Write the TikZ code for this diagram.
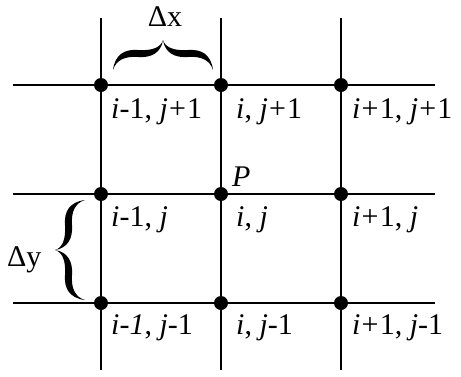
\documentclass[tikz,border=0pt]{standalone}
\usepackage{fontspec}
\setmainfont{Liberation Serif}

\newcommand{\plus}{\kern1.2pt+\kern1.2pt}

\tikzset{
  gridline/.style={line width=2pt},
  gridpt/.style={circle,fill,inner sep=0pt,minimum size=14pt},
  ptlabel/.style={anchor=base west,inner sep=0pt,font=\fontsize{30}{33}\selectfont},
  curlybrace/.pic={
    % upper half, then the mirrored lower half
    \fill (30,-50) .. controls (14,-48) and (9,-38) .. (10,-25)
        .. controls (11,-10) and (7,-2) .. (0,0)
        .. controls (13,-2) and (18,-12) .. (17,-25)
        .. controls (16,-38) and (20,-47) .. (30,-50) -- cycle;
    \fill (30,50) .. controls (14,48) and (9,38) .. (10,25)
        .. controls (11,10) and (7,2) .. (0,0)
        .. controls (13,2) and (18,12) .. (17,25)
        .. controls (16,38) and (20,47) .. (30,50) -- cycle;
  },
}

\begin{document}
\begin{tikzpicture}[x=1pt,y=-1pt]
    \useasboundingbox (0,0) rectangle (461,376);

    % grid lines
    \foreach \x/\c in {101/1,221/2,341/3}{
        \coordinate (top\c) at (\x,18);
        \coordinate (bot\c) at (\x,370);
        \draw[gridline] (top\c) -- (bot\c);
    }
    \foreach \y/\r in {85/1,194/2,303/3}{
        \coordinate (lft\r) at (13,\y);
        \coordinate (rgt\r) at (435,\y);
        \draw[gridline] (lft\r) -- (rgt\r);
    }

    % grid points
    \foreach \x/\c in {101/1,221/2,341/3}
        \foreach \y/\r in {85/1,194/2,303/3}
            \node[gridpt] (p\c\r) at (\x,\y) {};

    % point labels
    \node[ptlabel] (l11) at (111,118) {\textit{i}-1, \textit{j}\plus 1};
    \node[ptlabel] (l21) at (236,118) {\textit{i}, \textit{j}\plus 1};
    \node[ptlabel] (l31) at (352,118) {\textit{i}\plus 1, \textit{j}\plus 1};

    \node[ptlabel] (l12) at (111,226) {\textit{i}-1, \textit{j}};
    \node[ptlabel] (l22) at (236,226) {\textit{i}, \textit{j}};
    \node[ptlabel] (l32) at (352,226) {\textit{i}\plus 1, \textit{j}};

    \node[ptlabel] (l13) at (111,334) {\textit{i}-\textit{1}, \textit{j}-1};
    \node[ptlabel] (l23) at (236,334) {\textit{i}, \textit{j}-1};
    \node[ptlabel] (l33) at (352,334) {\textit{i}\plus 1, \textit{j}-1};

    \node[ptlabel] (lP) at (232,186) {\textit{P}};

    % spacing braces
    \pic[rotate=-90] (bx) at (163,40) {curlybrace};
    \node[ptlabel,anchor=base] (dx) at (165,26) {Δx};

    \pic (by) at (55,250) {curlybrace};
    \node[ptlabel,anchor=base west] (dy) at (7,266) {Δy};
\end{tikzpicture}
\end{document}
